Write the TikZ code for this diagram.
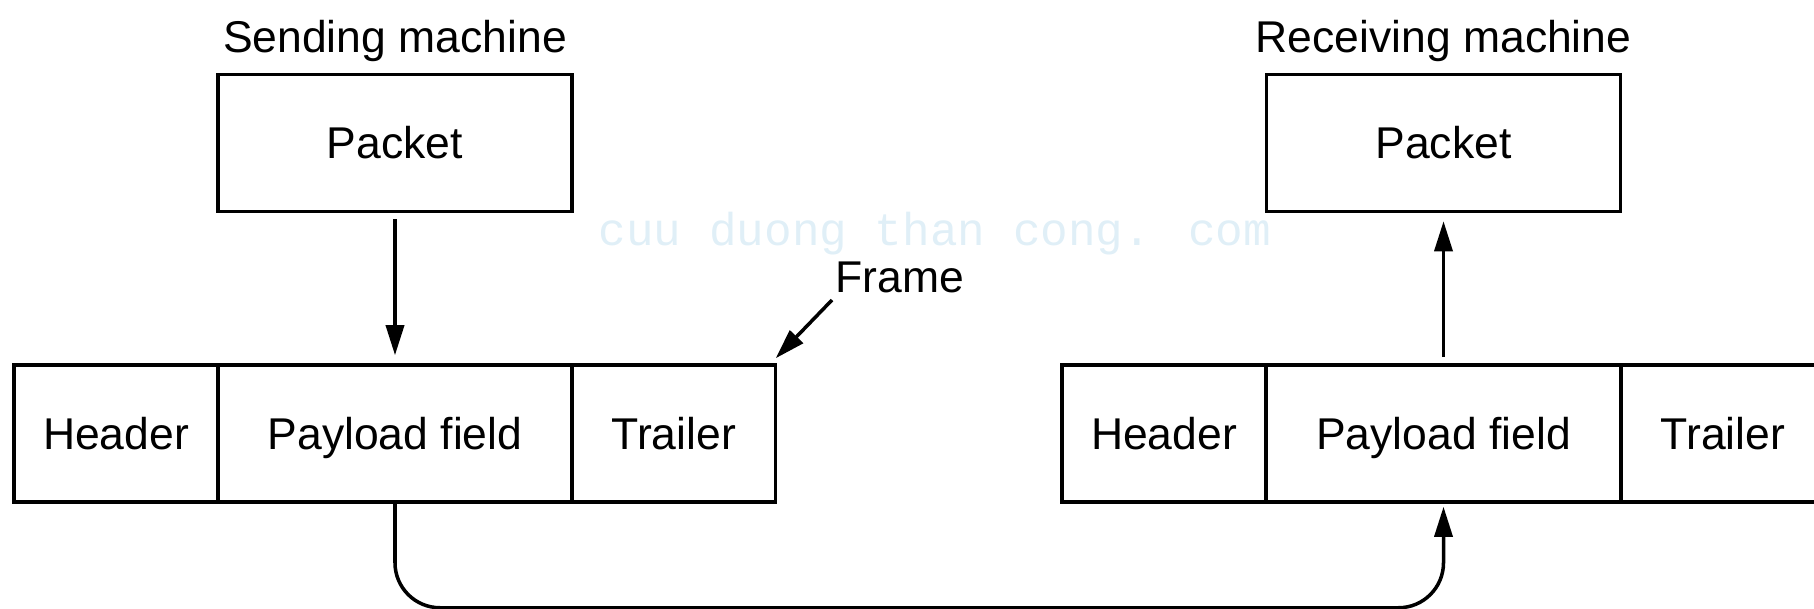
\documentclass[tikz,border=0pt]{standalone}
\usepackage{fontspec}
\setmainfont{Liberation Sans}
\newfontfamily\wmfont{Liberation Mono}
\usetikzlibrary{arrows.meta}
\definecolor{wmblue}{RGB}{224,239,247}
\begin{document}
\begin{tikzpicture}[x=0.1mm,y=-0.1mm,
  font=\fontsize{12.66pt}{15pt}\selectfont,
  box/.style={draw, line width=1pt, inner sep=0pt, minimum height=13.7mm, text height=3.2mm, text depth=0pt},
  wide/.style={box, minimum width=35.4mm},
  narrow/.style={box, minimum width=20.4mm},
  arr/.style={line width=1pt, -{Triangle[length=3mm,width=1.8mm]}},
  lbl/.style={anchor=base, inner sep=0pt}]
\useasboundingbox (0,0) rectangle (1814,609);
\clip (0,0) rectangle (1814,609);
% watermark
\node[anchor=base west, inner sep=0pt, text=wmblue, font=\wmfont\fontsize{13.1pt}{15pt}\selectfont] (wm) at (598,246) {cuu duong than cong. com};
% sending side
\node[lbl] (slabel) at (395,53) {Sending machine};
\node[wide] (lp) at (395,143) {Packet};
\node[narrow] (lhd) at (116,433.5) {Header};
\node[wide] (lpay) at (395,433.5) {Payload field};
\node[box, minimum width=20.35mm] (ltr) at (673.75,433.5) {Trailer};
% receiving side
\node[lbl] (rlabel) at (1443.5,53) {Receiving machine};
\node[wide] (rp) at (1443.5,143) {Packet};
\node[narrow] (rhd) at (1164,433.5) {Header};
\node[wide] (rpay) at (1443.5,433.5) {Payload field};
\node[narrow] (rtr) at (1723,433.5) {Trailer};
% frame label
\node[anchor=base west, inner sep=0pt] (flabel) at (835,293) {Frame};
\coordinate (fstart) at (832,300);
% connectors
\draw[arr] ([yshift=-0.6mm]lp.south) -- ([yshift=0.8mm]lpay.north);
\draw[arr] ([yshift=0.6mm]rpay.north) -- ([yshift=-0.8mm]rp.south);
\draw[arr] (fstart) -- ([xshift=-0.15mm,yshift=0.5mm]ltr.north east);
\draw[arr, rounded corners=4.5mm] (lpay.south) -- ++(0,104) -| ([yshift=-0.3mm]rpay.south);
\end{tikzpicture}
\end{document}
